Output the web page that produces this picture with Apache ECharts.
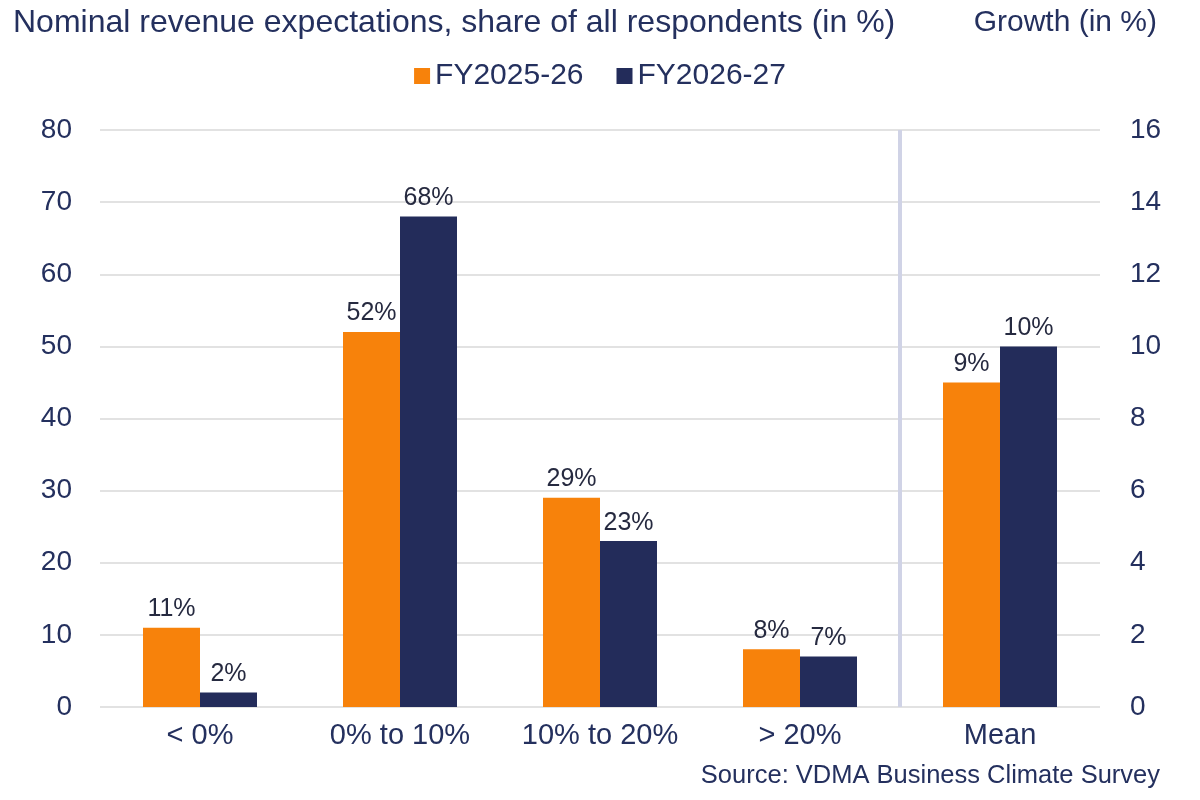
<!DOCTYPE html>
<html>
<head>
<meta charset="utf-8">
<script src="https://cdn.jsdelivr.net/npm/echarts@6/dist/echarts.min.js"></script>
<style>html,body{margin:0;padding:0;background:#fff}#c{width:1200px;height:800px}</style>
</head>
<body>
<div id="c"></div>
<script>
const categories = ['< 0%', '0% to 10%', '10% to 20%', '> 20%', 'Mean'];
const seriesNames = ['FY2025-26', 'FY2026-27'];
const share2526 = [11, 52, 29, 8, null];
const share2627 = [2, 68, 23, 7, null];
const mean2526 = [null, null, null, null, 9];
const mean2627 = [null, null, null, null, 10];
const leftTicks = {min: 0, max: 80, interval: 10};
const rightTicks = {min: 0, max: 16, interval: 2};
const separatorAt = 4; // boundary before the 'Mean' group (in category-slot units)

const ORANGE = '#F7820B';
const NAVY = '#232C5A';
const TXT = '#24305E';
const FONT = '"Liberation Sans", Arial, sans-serif';

const lbl = {show: true, position: 'top', distance: 6, formatter: p => p.value + '%', color: '#262A40', fontSize: 25, fontFamily: FONT};

const chart = echarts.init(document.getElementById('c'));
chart.setOption({
  animation: false,
  title: [
    {text: 'Nominal revenue expectations, share of all respondents (in %)', left: 8, top: 2,
     textStyle: {color: TXT, fontSize: 32, fontWeight: 'normal', fontFamily: FONT}},
    {text: 'Growth (in %)', right: 38, top: 3,
     textStyle: {color: TXT, fontSize: 30, fontWeight: 'normal', fontFamily: FONT}},
    {text: 'Source: VDMA Business Climate Survey', right: 35, bottom: 6,
     textStyle: {color: TXT, fontSize: 25.5, fontWeight: 'normal', fontFamily: FONT}}
  ],
  legend: {
    data: seriesNames, top: 56, left: 'center', icon: 'rect', itemWidth: 16, itemHeight: 16, itemGap: 33,
    textStyle: {color: TXT, fontSize: 30, fontFamily: FONT}
  },
  grid: {left: 100, right: 100, top: 130, bottom: 93},
  xAxis: [
    {type: 'category', data: categories, axisLine: {show: false}, axisTick: {show: false},
     axisLabel: {color: TXT, fontSize: 29, fontFamily: FONT, margin: 14, interval: 0, hideOverlap: false},
     splitLine: {show: false}},
    {type: 'category', data: categories, show: false},
    {type: 'value', min: 0, max: categories.length, show: false, splitLine: {show: false}}
  ],
  yAxis: [
    {type: 'value', min: leftTicks.min, max: leftTicks.max, interval: leftTicks.interval,
     axisLine: {show: false}, axisTick: {show: false},
     axisLabel: {color: TXT, fontSize: 28, fontFamily: FONT, margin: 28},
     splitLine: {lineStyle: {color: '#D9D9D9', width: 1.5}}},
    {type: 'value', min: rightTicks.min, max: rightTicks.max, interval: rightTicks.interval, position: 'right',
     axisLine: {show: false}, axisTick: {show: false},
     axisLabel: {color: TXT, fontSize: 28, fontFamily: FONT, margin: 30},
     splitLine: {show: false}}
  ],
  series: [
    {name: seriesNames[0], type: 'bar', xAxisIndex: 0, yAxisIndex: 0, data: share2526, barWidth: 57, barGap: '0%', itemStyle: {color: ORANGE}, label: lbl},
    {name: seriesNames[1], type: 'bar', xAxisIndex: 0, yAxisIndex: 0, data: share2627, barWidth: 57, barGap: '0%', itemStyle: {color: NAVY}, label: lbl},
    {name: seriesNames[0], type: 'bar', xAxisIndex: 1, yAxisIndex: 1, data: mean2526, barWidth: 57, barGap: '0%', itemStyle: {color: ORANGE}, label: lbl},
    {name: seriesNames[1], type: 'bar', xAxisIndex: 1, yAxisIndex: 1, data: mean2627, barWidth: 57, barGap: '0%', itemStyle: {color: NAVY}, label: lbl},
    {name: 'separator', type: 'line', xAxisIndex: 2, yAxisIndex: 0, data: [], silent: true,
     markLine: {silent: true, symbol: 'none', label: {show: false}, animation: false,
       lineStyle: {type: 'solid', color: '#D0D3E6', width: 4},
       data: [{xAxis: separatorAt}]}}
  ]
});
</script>
</body>
</html>
